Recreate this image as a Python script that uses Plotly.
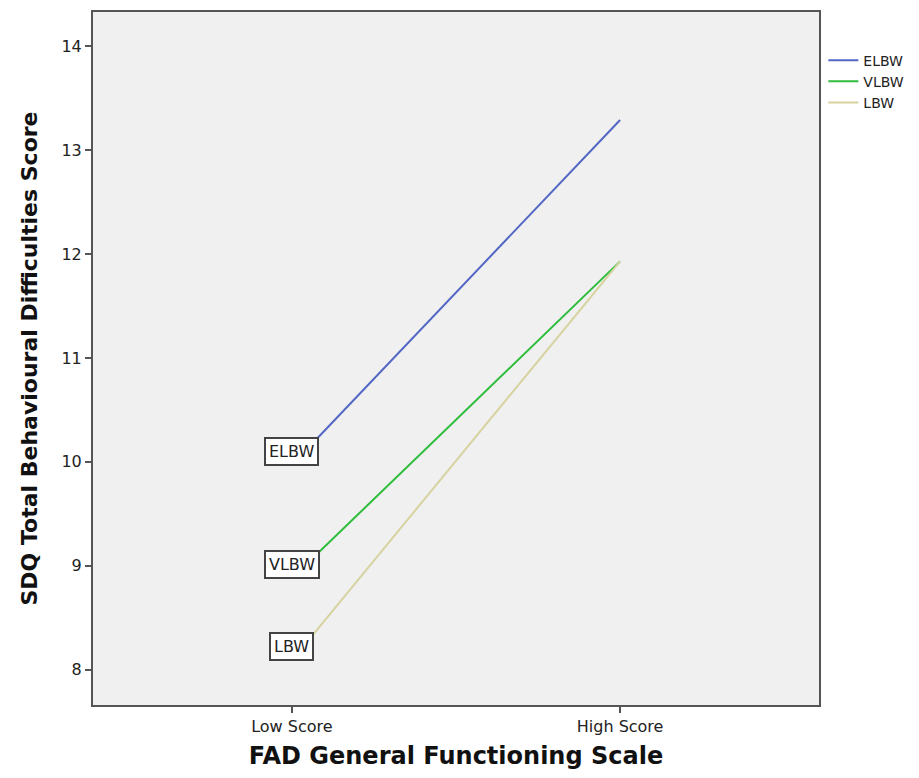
import plotly.graph_objects as go

categories = ["Low Score", "High Score"]
series_names = ["ELBW", "VLBW", "LBW"]
elbw = [9.97, 13.29]
vlbw = [8.88, 11.93]
lbw = [8.09, 11.93]
y_ticks = [8, 9, 10, 11, 12, 13, 14]

colors = ["#5266c4", "#2ebd3c", "#d6d3a0"]
values = [elbw, vlbw, lbw]

fig = go.Figure()
x_pos = list(range(len(categories)))
for name, vals, col in zip(series_names, values, colors):
    fig.add_trace(go.Scatter(x=x_pos, y=vals, mode="lines", name=name,
                             line=dict(color=col, width=2)))
    fig.add_annotation(x=x_pos[0], y=vals[0], text=name, showarrow=False,
                       yshift=14, bgcolor="white", bordercolor="#444",
                       borderwidth=2, borderpad=3,
                       font=dict(family="DejaVu Sans", size=16, color="#222"))

fig.update_layout(
    width=903, height=762,
    margin=dict(l=85, r=86, t=2, b=65),
    paper_bgcolor="white", plot_bgcolor="#f0f0f0",
    font=dict(family="DejaVu Sans", color="#222"),
    showlegend=True,
    legend=dict(x=1.006, xanchor="left", y=0.953, yanchor="top",
                font=dict(size=14, color="#222"), bgcolor="rgba(0,0,0,0)",
                tracegroupgap=0),
    xaxis=dict(range=[-0.606, 1.606], tickvals=x_pos, ticktext=categories,
               showgrid=False, zeroline=False, showline=True, mirror=True,
               linecolor="#555", linewidth=2, ticks="outside", ticklen=6,
               tickcolor="#555", tickwidth=2,
               tickfont=dict(size=16, color="#222"),
               title=dict(text="<b>FAD General Functioning Scale</b>",
                          font=dict(size=24, color="#111"), standoff=14)),
    yaxis=dict(range=[7.66, 14.33], tickvals=y_ticks,
               showgrid=False, zeroline=False, showline=True, mirror=True,
               linecolor="#555", linewidth=2, ticks="outside", ticklen=6,
               tickcolor="#555", tickwidth=2,
               tickfont=dict(size=16, color="#222"),
               title=dict(text="<b>SDQ Total Behavioural Difficulties Score</b>",
                          font=dict(size=22, color="#111"), standoff=18)),
)

fig.write_html("out.html")
